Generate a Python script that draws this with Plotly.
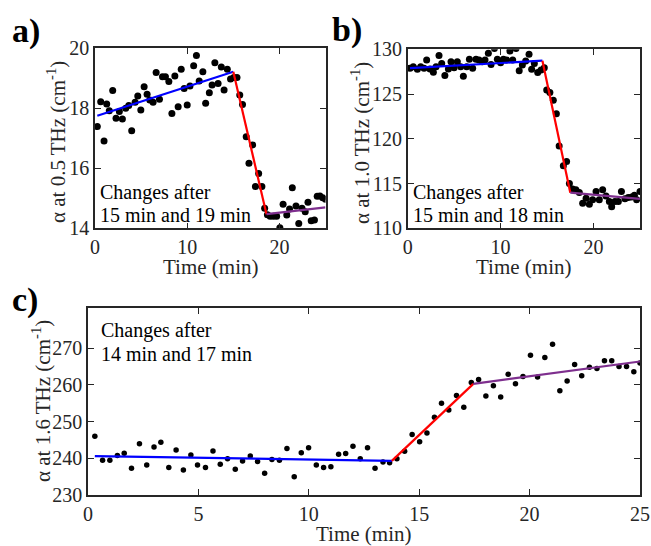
import plotly.graph_objects as go

# ---------------- data ----------------
t_a = [0.25, 0.62, 0.98, 1.27, 1.55, 1.92, 2.28, 2.64, 2.97, 3.33, 3.66, 3.98, 4.35, 4.64, 4.97,
       5.33, 5.65, 5.94, 6.30, 6.63, 6.99, 7.32, 7.64, 8.01, 8.34, 8.66, 9.02, 9.35, 9.67, 10.00,
       10.30, 10.70, 11.00, 11.30, 11.70, 12.00, 12.40, 12.70, 13.00, 13.35, 13.70, 14.00, 14.35,
       14.70, 15.05, 15.40, 15.70, 16.00, 16.40, 16.70, 17.10, 17.40, 17.75, 18.10, 18.40, 18.70,
       19.00, 19.35, 19.70, 20.05, 20.40, 20.80, 21.10, 21.40, 21.80, 22.10, 22.45, 22.80, 23.10,
       23.45, 23.80, 24.10, 24.40, 24.70, 25.00]
v_a = [17.39, 18.22, 16.91, 18.14, 17.92, 18.59, 17.67, 17.89, 17.64, 18.00, 18.09, 17.25, 18.20,
       18.41, 17.94, 18.72, 18.47, 18.28, 18.20, 19.19, 18.30, 19.05, 19.05, 18.89, 17.83, 19.08,
       18.05, 19.30, 18.66, 18.11, 18.74, 19.42, 19.76, 18.91, 19.22, 18.17, 18.52, 18.78, 19.52,
       18.83, 19.38, 18.61, 19.30, 18.98, 19.03, 19.03, 18.44, 18.13, 17.05, 16.17, 16.78, 15.39,
       15.83, 15.39, 14.67, 14.45, 14.40, 14.40, 14.40, 14.02, 14.80, 14.44, 14.64, 15.35, 14.74,
       14.16, 14.67, 14.55, 14.87, 14.25, 14.28, 15.07, 15.08, 15.02, 14.97]
fit_a_t = [0.25, 15.0, 18.6, 25.0]
fit_a_v = [17.75, 19.22, 14.47, 14.70]

t_b = [0.25, 0.60, 1.04, 1.40, 1.76, 2.04, 2.40, 2.76, 3.05, 3.37, 3.66, 4.00, 4.38, 4.66, 4.99,
       5.34, 5.70, 5.99, 6.35, 6.64, 6.99, 7.35, 7.68, 8.03, 8.32, 8.68, 8.97, 9.33, 9.65, 10.00,
       10.30, 10.65, 11.00, 11.30, 11.66, 12.00, 12.34, 12.70, 13.06, 13.34, 13.63, 13.99, 14.35,
       14.70, 14.96, 15.30, 15.67, 16.00, 16.30, 16.75, 17.10, 17.40, 17.75, 18.10, 18.47, 18.83,
       19.20, 19.55, 19.90, 20.27, 20.62, 20.98, 21.34, 21.70, 21.95, 22.30, 22.67, 23.00, 23.38,
       23.74, 24.10, 24.40, 24.64, 25.00]
v_b = [127.88, 128.06, 127.77, 128.06, 127.88, 128.80, 127.80, 127.43, 128.06, 129.30, 128.40,
       127.06, 127.80, 128.60, 127.95, 128.60, 128.06, 127.00, 128.06, 128.90, 127.88, 128.90,
       128.80, 128.60, 128.80, 129.55, 128.30, 130.10, 128.90, 128.50, 128.90, 128.80, 129.80,
       128.80, 130.10, 127.60, 128.25, 128.70, 129.44, 127.77, 128.40, 127.40, 127.70, 127.95,
       125.46, 125.16, 124.30, 122.80, 119.20, 117.00, 117.45, 115.00, 114.40, 114.30, 114.00,
       112.80, 113.35, 112.70, 113.20, 114.10, 113.20, 114.30, 113.60, 113.00, 112.40, 113.00,
       113.00, 114.10, 113.30, 113.45, 113.50, 113.70, 113.20, 114.10]
fit_b_t = [0.25, 14.5, 17.5, 25.0]
fit_b_v = [127.9, 128.73, 113.98, 113.28]

t_c = [0.31, 0.66, 0.99, 1.33, 1.64, 1.97, 2.33, 2.66, 2.99, 3.30, 3.66, 3.99, 4.32, 4.66, 4.96,
       5.32, 5.66, 5.99, 6.32, 6.67, 7.00, 7.35, 7.68, 8.00, 8.33, 8.67, 9.01, 9.34, 9.66, 9.99,
       10.34, 10.67, 11.00, 11.35, 11.67, 12.00, 12.33, 12.66, 13.00, 13.36, 13.66, 13.99, 14.34,
       14.68, 15.02, 15.35, 15.69, 16.01, 16.34, 16.69, 17.02, 17.36, 17.69, 18.02, 18.36, 18.69,
       19.03, 19.36, 19.70, 20.04, 20.36, 20.69, 21.04, 21.37, 21.70, 22.04, 22.36, 22.71, 23.05,
       23.39, 23.72, 24.05, 24.39, 24.72, 25.00]
v_c = [246.0, 239.5, 239.5, 240.8, 241.4, 237.3, 244.0, 238.2, 243.1, 244.4, 237.5, 242.3, 236.8,
       240.9, 238.2, 237.5, 242.0, 238.4, 239.9, 237.0, 239.3, 240.6, 239.1, 235.9, 239.7, 239.5,
       242.7, 235.0, 241.5, 242.9, 238.2, 237.5, 237.7, 241.1, 241.3, 243.3, 239.9, 242.9, 237.3,
       239.0, 238.8, 239.9, 241.9, 246.5, 244.5, 246.9, 251.2, 255.0, 253.2, 257.1, 253.9, 260.7,
       261.5, 257.0, 259.8, 256.7, 262.9, 260.3, 262.3, 268.1, 262.2, 267.5, 271.1, 258.4, 261.1,
       265.6, 262.5, 264.8, 264.5, 266.6, 266.6, 265.0, 265.0, 263.6, 266.0]
fit_c_t = [0.31, 13.76, 17.45, 25.0]
fit_c_v = [240.6, 239.3, 260.3, 266.4]

seg_colors = ["#0000FF", "#FF0000", "#7E2F8E"]

W, H = 651, 546
FONT = "Liberation Serif"

fig = go.Figure()

def add_panel(t, v, ft, fv, xa, ya, msize):
    fig.add_trace(go.Scatter(x=t, y=v, mode="markers", xaxis=xa, yaxis=ya,
                             marker=dict(color="black", size=msize), showlegend=False))
    for i in range(3):
        fig.add_trace(go.Scatter(x=ft[i:i + 2], y=fv[i:i + 2], mode="lines", xaxis=xa, yaxis=ya,
                                 line=dict(color=seg_colors[i], width=2.2), showlegend=False))

add_panel(t_a, v_a, fit_a_t, fit_a_v, "x", "y", 7)
add_panel(t_b, v_b, fit_b_t, fit_b_v, "x2", "y2", 7)
add_panel(t_c, v_c, fit_c_t, fit_c_v, "x3", "y3", 5.5)

def px_x(a, b):
    return [a / W, b / W]

def px_y(top, bottom):
    return [1 - bottom / H, 1 - top / H]

axis_common = dict(showline=True, linecolor="#262626", linewidth=1.6, mirror="ticks",
                   ticks="inside", ticklen=6, tickwidth=1.3, tickcolor="#262626",
                   showgrid=False, zeroline=False, automargin=False,
                   tickfont=dict(family=FONT, size=20, color="#262626"))

fig.update_layout(
    width=W, height=H, margin=dict(l=0, r=0, t=0, b=0, autoexpand=False),
    paper_bgcolor="white", plot_bgcolor="white",
    font=dict(family=FONT, color="black"),
    xaxis=dict(domain=px_x(95, 325.5), range=[0, 25], tickvals=[0, 10, 20], anchor="y",
               **axis_common),
    yaxis=dict(domain=px_y(48.3, 228.3), range=[14, 20], tickvals=[14, 16, 18, 20], anchor="x",
               **axis_common),
    xaxis2=dict(domain=px_x(407.7, 640), range=[0, 25], tickvals=[0, 10, 20], anchor="y2",
                **axis_common),
    yaxis2=dict(domain=px_y(49.3, 228.3), range=[110, 130], tickvals=[110, 115, 120, 125, 130],
                anchor="x2", **axis_common),
    xaxis3=dict(domain=px_x(88, 640), range=[0, 25], tickvals=[0, 5, 10, 15, 20, 25],
                anchor="y3", **axis_common),
    yaxis3=dict(domain=px_y(308.3, 495), range=[230, 280.9], tickvals=[230, 240, 250, 260, 270],
                anchor="x3", **axis_common),
)

def ann(text, x, y, size=21, xanchor="center", angle=0, color="#262626"):
    fig.add_annotation(text=text, xref="paper", yref="paper", x=x / W, y=1 - y / H,
                       xanchor=xanchor, yanchor="middle", textangle=angle, showarrow=False,
                       borderpad=0, font=dict(family=FONT, size=size, color=color))

# axis titles
ann("Time (min)", 210, 267)
ann("Time (min)", 523, 267)
ann("Time (min)", 364, 533.5)
ann("α at 0.5 THz (cm<sup>-1</sup>)", 57, 142, angle=-90)
ann("α at 1.0 THz (cm<sup>-1</sup>)", 361, 143, angle=-90)
ann("α at 1.6 THz (cm<sup>-1</sup>)", 41, 401, angle=-90)

# in-panel notes
ann("Changes after", 99, 192.5, size=20, xanchor="left", color="black")
ann("15 min and 19 min", 99, 215, size=20, xanchor="left", color="black")
ann("Changes after", 412, 192.5, size=20, xanchor="left", color="black")
ann("15 min and 18 min", 412, 215, size=20, xanchor="left", color="black")
ann("Changes after", 100, 330.5, size=20, xanchor="left", color="black")
ann("14 min and 17 min", 100, 353.5, size=20, xanchor="left", color="black")

# panel labels
ann("<b>a)</b>", 11, 31, size=34, xanchor="left", color="black")
ann("<b>b)</b>", 331, 30, size=34, xanchor="left", color="black")
ann("<b>c)</b>", 11, 300, size=34, xanchor="left", color="black")

fig.write_html("out.html")
